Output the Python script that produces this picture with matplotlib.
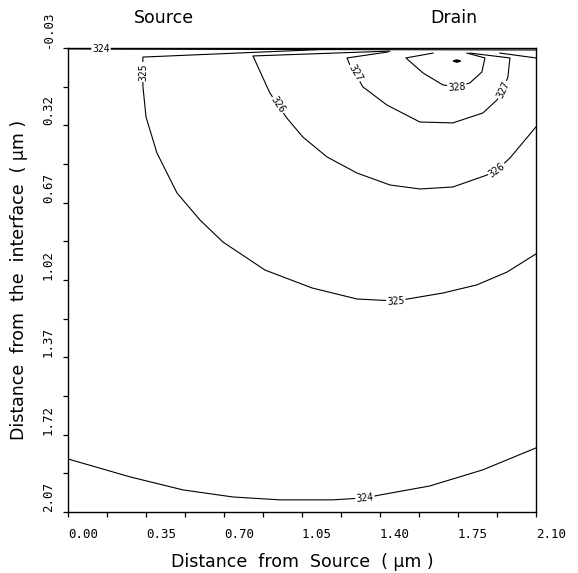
import numpy as np
import matplotlib.pyplot as plt

# iso-lines (x = distance from source, y = depth, both in um)
c324_top_x = [0.00, 0.148, 2.10]
c324_top_y = [-0.026, -0.025, -0.021]
c324_x = [0.000, 0.278, 0.516, 0.740, 0.951, 1.189, 1.332, 1.400, 1.624, 1.862, 2.100]
c324_y = [1.830, 1.911, 1.970, 2.002, 2.015, 2.015, 2.006, 1.993, 1.952, 1.879, 1.780]

c325_x = [1.202, 0.336, 0.336, 0.336, 0.350, 0.399, 0.489, 0.592, 0.695, 0.884,
          1.095, 1.297, 1.471, 1.682, 1.835, 1.970, 2.100]
c325_y = [-0.026, 0.011, 0.079, 0.142, 0.282, 0.445, 0.626, 0.748, 0.848, 0.975,
          1.056, 1.106, 1.115, 1.079, 1.042, 0.984, 0.902]

c326_x = [1.445, 0.830, 0.906, 0.942, 0.982, 1.054, 1.162, 1.297, 1.445, 1.579,
          1.727, 1.880, 1.925, 1.983, 2.100]
c326_y = [-0.016, 0.006, 0.174, 0.228, 0.287, 0.373, 0.463, 0.536, 0.590, 0.608,
          0.599, 0.545, 0.522, 0.468, 0.327]
c326_corner_x = [1.938, 2.100]
c326_corner_y = [-0.007, 0.015]

c327_x = [1.436, 1.252, 1.265, 1.288, 1.323, 1.431, 1.579, 1.727, 1.862, 1.925,
          1.952, 1.974, 1.983, 1.803]
c327_y = [-0.012, 0.015, 0.047, 0.083, 0.146, 0.228, 0.305, 0.309, 0.264, 0.205,
          0.160, 0.101, 0.015, -0.007]

c328_x = [1.638, 1.516, 1.593, 1.682, 1.745, 1.803, 1.857, 1.871, 1.790]
c328_y = [-0.007, 0.015, 0.083, 0.137, 0.146, 0.128, 0.079, 0.015, -0.007]

c329_x = [1.728, 1.745, 1.762, 1.745]
c329_y = [0.029, 0.024, 0.029, 0.034]

xticks = [0.00, 0.35, 0.70, 1.05, 1.40, 1.75, 2.10]
yticks = [-0.03, 0.32, 0.67, 1.02, 1.37, 1.72, 2.07]

# (level, x, y, vertex indices that carry a label)
lines = [
    (324, c324_top_x, c324_top_y, [1]),
    (324, c324_x, c324_y, [6]),
    (325, c325_x, c325_y, [2, 12]),
    (326, c326_x, c326_y, [3, 12]),
    (326, c326_corner_x, c326_corner_y, []),
    (327, c327_x, c327_y, [3, 10]),
    (328, c328_x, c328_y, [4]),
]

fig = plt.figure(figsize=(5.78, 5.73), dpi=100)
ax = fig.add_axes([68 / 578, 61 / 573, 468 / 578, 464 / 573])
ax.set_xlim(0.0, 2.10)
ax.set_ylim(2.07, -0.03)

for lvl, xs, ys, lab in lines:
    ax.plot(xs, ys, color='black', lw=0.8, zorder=2)
ax.fill(c329_x, c329_y, color='black', zorder=2)

# contour labels, rotated along the line
for lvl, xs, ys, lab in lines:
    for i in lab:
        p0 = ax.transData.transform((xs[i - 1], ys[i - 1]))
        p1 = ax.transData.transform((xs[i + 1], ys[i + 1]))
        ang = np.degrees(np.arctan2(p1[1] - p0[1], p1[0] - p0[0]))
        if ang > 90:
            ang -= 180
        elif ang <= -90:
            ang += 180
        ax.text(xs[i], ys[i], str(lvl), rotation=ang, rotation_mode='anchor',
                ha='center', va='center', fontsize=7, family='DejaVu Sans Mono',
                bbox=dict(fc='white', ec='none', pad=0.6), zorder=3)

ax.set_xticks(xticks)
ax.set_xticks([v + 0.175 for v in xticks[:-1]], minor=True)
ax.set_xticklabels(['%.2f' % v for v in xticks], family='DejaVu Sans Mono', fontsize=9,
                   ha='left')
ax.set_yticks(yticks)
ax.set_yticks([v + 0.175 for v in yticks[:-1]], minor=True)
ax.set_yticklabels(['%.2f' % v for v in yticks], family='DejaVu Sans Mono', fontsize=9,
                   rotation=90, va='bottom')
ax.tick_params(which='both', direction='out', length=3.5, width=0.9)
ax.tick_params(axis='x', pad=8)
ax.tick_params(axis='y', pad=6)

for s in ax.spines.values():
    s.set_linewidth(1.0)

ax.set_xlabel('Distance  from  Source  ( µm )', fontsize=12.5, labelpad=9)
ax.set_ylabel('Distance  from  the  interface  ( µm )', fontsize=12.5, labelpad=10)

ax.text(0.43, -0.165, 'Source', ha='center', va='center', fontsize=12.5)
ax.text(1.73, -0.165, 'Drain', ha='center', va='center', fontsize=12.5)

fig.savefig('out.png', dpi=100)
